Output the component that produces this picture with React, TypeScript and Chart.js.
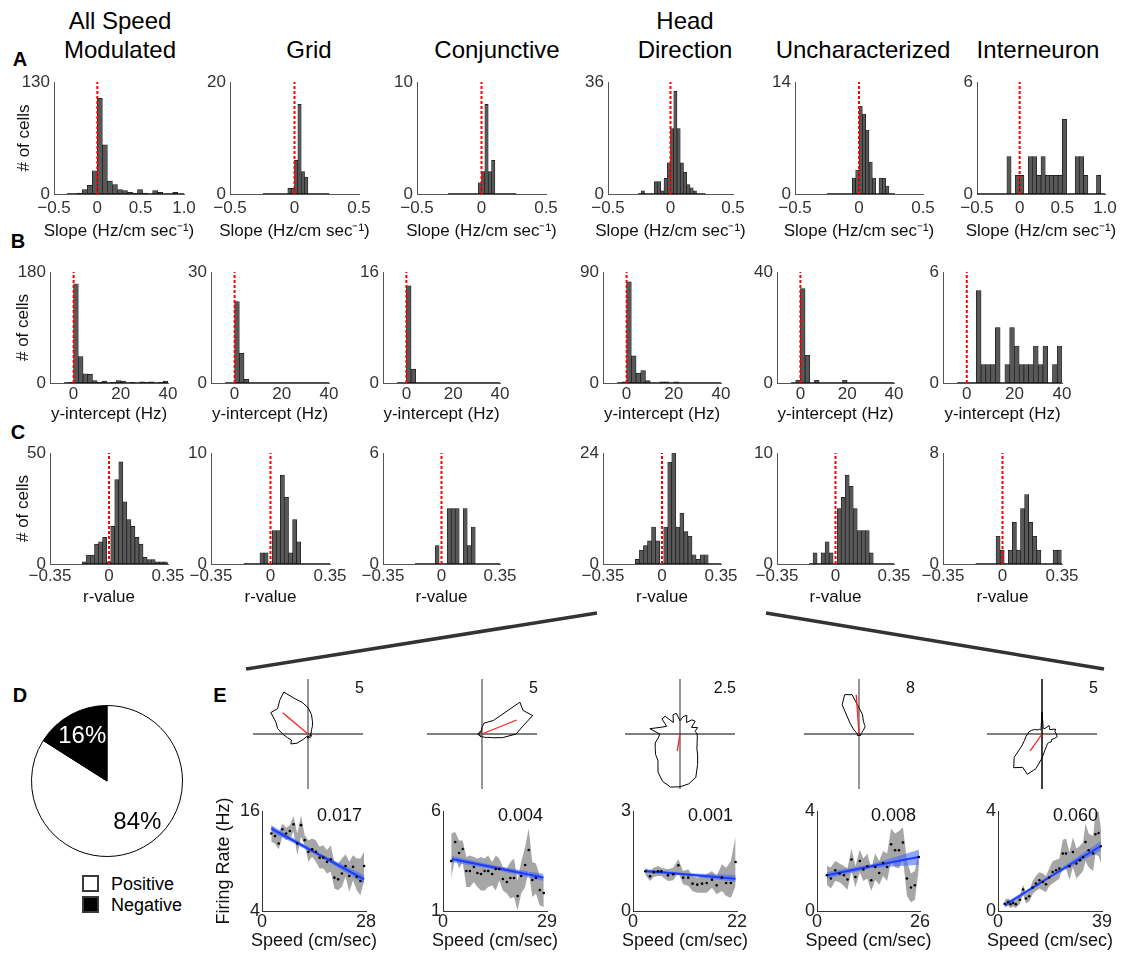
import React, { useEffect, useRef } from "react";
import { Chart, registerables } from "chart.js";

Chart.register(...registerables);

const FONT = "'Liberation Sans', Arial, Helvetica, sans-serif";
Chart.defaults.font.family = FONT;
Chart.defaults.color = "#222";

// ------------------------------------------------------------------ data
const columnTitles: string[][] = [
  ["All Speed", "Modulated"],
  ["Grid"],
  ["Conjunctive"],
  ["Head", "Direction"],
  ["Uncharacterized"],
  ["Interneuron"],
];

// Row A – slope histograms (counts per bin, bins start at binStart, width binWidth)
const slopeBinStart = [-0.29, -0.052, -0.026, -0.234, -0.052, -0.15];
const slopeBinWidth = [0.058, 0.026, 0.026, 0.026, 0.026, 0.05];
const slopeCountsAll = [0, 1, 5, 10, 27, 111, 57, 15, 11, 5, 4, 2, 1, 5, 1, 0, 4, 2, 0, 0, 2, 0];
const slopeCountsGrid = [1, 1, 6, 16, 4, 3];
const slopeCountsConj = [1, 2, 8, 2, 3];
const slopeCountsHD = [1, 0, 0, 0, 4, 4, 1, 5, 10, 21, 33, 21, 10, 7, 3, 2, 1];
const slopeCountsUnch = [2, 3, 11, 10, 8, 4, 2, 0, 2, 2, 1];
const slopeCountsInt = [2, 0, 1, 1, 0, 2, 2, 1, 2, 1, 1, 1, 1, 4, 0, 0, 2, 2, 1, 0, 0, 1];
const slopeYMax = [130, 20, 10, 36, 14, 6];
const slopeXRange = [[-0.5, 1.0], [-0.5, 0.5], [-0.5, 0.5], [-0.5, 0.5], [-0.5, 0.5], [-0.5, 1.0]];
const slopeTicksWide = [-0.5, 0, 0.5, 1.0];
const slopeTicks = [-0.5, 0, 0.5];
const slopeBaseline = [[-0.35, 1.0], [-0.245, 0.27], [-0.26, 0.27], [-0.26, 0.28], [-0.25, 0.28], [-0.5, 1.0]];

// Row B – y-intercept histograms (2 Hz bins)
const icptBinStart = [-2, 0, 0, -2, -2, 0];
const icptBinWidth = 2;
const icptCountsAll = [1, 161, 43, 15, 14, 4, 1, 3, 0, 1, 4, 3, 0, 1, 0, 2, 1, 2, 0, 1, 3];
const icptCountsGrid = [22, 8, 1];
const icptCountsConj = [14, 2];
const icptCountsHD = [1, 82, 22, 8, 10, 2, 0, 0, 1, 1, 0, 1];
const icptCountsUnch = [1, 34, 10, 0, 1, 0, 0, 0, 0, 0, 1];
const icptCountsInt = [0, 0, 5, 1, 1, 1, 3, 0, 1, 3, 2, 1, 1, 1, 2, 1, 2, 0, 1, 2];
const icptYMax = [180, 30, 16, 90, 40, 6];
const icptXRange = [-10, 40];
const icptTicks = [0, 20, 40];
const icptBaseline = [-4, 40];

// Row C – r-value histograms
const rBinStart = -0.158;
const rBinWidth = 0.024;
const rCountsAll = [1, 4, 4, 9, 10, 12, 1, 17, 38, 46, 28, 20, 17, 12, 9, 3, 2, 2, 1, 1, 1];
const rCountsGrid = [0, 0, 0, 0, 1, 1, 0, 3, 3, 8, 6, 1, 4, 2];
const rCountsConj = [0, 0, 0, 0, 0, 1, 0, 0, 3, 3, 3, 0, 3, 1, 2];
const rCountsHD = [1, 3, 4, 5, 8, 5, 0, 8, 22, 24, 8, 11, 7, 6, 2, 1, 2, 2];
const rCountsUnch = [0, 1, 0, 1, 2, 1, 0, 5, 6, 8, 7, 5, 3, 3, 3, 1];
const rCountsInt = [0, 0, 0, 0, 0, 2, 1, 0, 1, 3, 1, 4, 5, 3, 2, 1, 0, 0, 0, 1, 1];
const rYMax = [50, 10, 6, 24, 10, 8];
const rXRange = [-0.35, 0.35];
const rTicks = [-0.35, 0, 0.35];
const rBaseline = [-0.158, 0.35];

// D – pie
const pieLabels = ["Positive", "Negative"];
const pieValues = [84, 16];

// E – head-direction polar plots (rate at 0°,10°,...,350°, counter-clockwise from east)
const polar1Rates = [0.3, 0.2, 0.35, 0.3, 0.4, 0.5, 0.8, 1.2, 1.8, 2.4, 2.9, 3.4, 4.4, 4.0, 3.6, 3.9, 3.1, 2.8, 2.3, 1.9, 1.6, 1.8, 1.3, 0.6, 0.3, 0.2, 0.3, 0.4, 0.2, 0.3, 0.4, 0.3, 0.2, 0.4, 0.3, 0.2];
const polar2Rates = [3.1, 3.7, 4.9, 4.3, 4.5, 1.6, 1.3, 1.1, 1.0, 0.6, 0.3, 0.2, 0.3, 0.2, 0.3, 0.2, 0.3, 0.3, 0.4, 0.3, 0.2, 0.3, 0.2, 0.2, 0.3, 0.2, 0.2, 0.2, 0.3, 0.3, 0.3, 0.4, 0.5, 0.6, 1.0, 1.9];
const polar3Rates = [0.78, 0.7, 0.85, 0.6, 0.9, 0.84, 0.6, 0.9, 0.8, 0.6, 0.95, 0.93, 0.6, 1.05, 1.07, 0.7, 0.9, 1.39, 0.92, 1.0, 1.2, 1.3, 1.45, 1.56, 2.0, 2.3, 2.45, 2.4, 2.3, 2.1, 1.6, 1.25, 1.0, 0.9, 0.83, 0.8];
const polar4Rates = [0.3, 0.3, 0.4, 0.5, 0.8, 1.4, 1.6, 1.9, 2.9, 3.8, 5.8, 6.1, 4.9, 2.0, 1.0, 0.5, 0.4, 0.3, 0.3, 0.2, 0.3, 0.2, 0.3, 0.2, 0.3, 0.2, 0.3, 0.2, 0.3, 0.2, 0.3, 0.2, 0.3, 0.2, 0.3, 0.3];
const polar5Rates = [1.3, 1.2, 1.3, 0.8, 0.9, 1.0, 0.6, 0.5, 0.6, 2.0, 0.5, 0.4, 0.5, 0.5, 0.6, 0.8, 1.0, 1.2, 1.3, 1.5, 1.7, 2.1, 3.3, 4.0, 3.5, 3.9, 3.2, 2.2, 1.5, 1.2, 1.0, 1.0, 1.1, 1.0, 1.2, 1.4];
const polarBinDeg = 10;
const polarMax = [5, 5, 2.5, 8, 5];
const polarMaxLabels = ["5", "5", "2.5", "8", "5"];
const polarVecDir = [140, 22, 261, 94, 235];
const polarVecLen = [3.0, 3.4, 0.78, 5.7, 1.87];

// E – firing rate vs running speed
const speed1 = [2.5, 3.5, 4.5, 5.5, 6.5, 7.5, 8.5, 9.5, 10.5, 11.5, 12.5, 13.5, 14.5, 15.5, 16.5, 17.5, 18.5, 19.5, 20.5, 21.5, 22.5, 23.5, 24.5, 25.5, 26.5, 27.5];
const rate1 = [13.3, 13.0, 12.1, 13.8, 13.3, 13.6, 14.4, 12.1, 14.3, 12.5, 11.1, 11.4, 11.1, 10.4, 10.4, 9.9, 10.2, 8.0, 7.8, 8.5, 9.4, 8.2, 9.3, 8.1, 7.6, 9.4];
const upper1 = [14.3, 13.8, 13.3, 14.5, 14.0, 14.3, 15.4, 13.3, 15.5, 13.1, 12.5, 12.7, 12.5, 11.7, 11.9, 11.3, 11.9, 9.9, 9.7, 10.3, 10.8, 9.9, 10.7, 10.3, 10.3, 11.1];
const lower1 = [12.3, 12.1, 11.4, 12.9, 12.5, 12.7, 13.5, 10.7, 12.9, 11.9, 9.9, 10.5, 9.9, 9.1, 9.1, 8.5, 8.7, 6.7, 6.5, 6.9, 8.1, 6.3, 7.7, 6.5, 5.9, 7.7];
const fitX1 = [2.5, 15, 27.5];
const fitY1 = [13.9, 10.85, 7.8];
const fitUp1 = [14.3, 11.05, 8.3];
const fitLo1 = [13.5, 10.65, 7.3];

const speed2 = [2.3, 3.4, 4.5, 5.5, 6.5, 7.5, 8.6, 9.6, 10.6, 11.6, 12.6, 13.7, 14.7, 15.7, 16.7, 17.8, 18.8, 19.8, 20.8, 21.8, 22.9, 23.9, 24.9, 25.9, 27.0, 28.1];
const rate2 = [3.5, 4.45, 3.9, 4.1, 3.0, 3.0, 3.2, 2.9, 2.85, 3.0, 3.0, 2.85, 3.1, 3.1, 2.6, 2.45, 2.65, 2.65, 1.75, 2.75, 3.3, 4.05, 2.55, 2.65, 2.05, 1.9];
const upper2 = [4.87, 4.95, 4.53, 4.53, 3.7, 3.78, 3.7, 3.62, 3.7, 3.62, 3.78, 3.45, 3.78, 3.62, 3.2, 3.12, 3.45, 3.62, 2.53, 3.45, 4.2, 5.12, 3.45, 3.37, 2.78, 2.7];
const lower2 = [2.62, 3.7, 3.12, 3.45, 2.2, 2.2, 2.45, 2.2, 2.03, 2.03, 2.2, 2.28, 2.03, 2.53, 2.03, 1.87, 1.62, 1.7, 1.03, 1.87, 2.2, 3.03, 1.7, 1.87, 1.28, 1.2];
const fitX2 = [2.5, 15, 28];
const fitY2 = [3.6, 3.15, 2.67];
const fitUp2 = [3.75, 3.25, 2.85];
const fitLo2 = [3.45, 3.05, 2.5];

const speed3 = [2.6, 3.6, 4.4, 5.3, 6.0, 7.4, 8.5, 9.6, 10.6, 11.7, 12.6, 13.6, 14.6, 15.6, 16.7, 17.7, 18.8, 19.7, 20.7, 21.7];
const rate3 = [1.19, 1.04, 1.16, 1.19, 1.19, 1.07, 1.1, 1.37, 1.0, 1.0, 0.82, 0.79, 0.82, 0.84, 0.94, 0.77, 1.0, 0.84, 0.84, 1.47];
const upper3 = [1.3, 1.2, 1.3, 1.35, 1.3, 1.25, 1.3, 1.55, 1.2, 1.25, 1.05, 1.0, 1.05, 1.1, 1.2, 1.05, 1.4, 1.3, 1.5, 2.25];
const lower3 = [1.08, 0.9, 1.02, 1.05, 1.05, 0.9, 0.92, 1.15, 0.8, 0.75, 0.6, 0.55, 0.55, 0.55, 0.7, 0.5, 0.6, 0.45, 0.4, 0.75];
const fitX3 = [2.6, 12, 21.7];
const fitY3 = [1.2, 1.09, 0.97];
const fitUp3 = [1.25, 1.13, 1.08];
const fitLo3 = [1.15, 1.05, 0.87];

const speed4 = [2.5, 3.5, 4.6, 5.7, 6.8, 7.7, 8.7, 9.7, 10.8, 11.7, 12.7, 13.7, 14.7, 15.7, 16.7, 17.7, 18.7, 19.7, 20.7, 21.7, 22.7, 23.7, 24.7, 25.7];
const rate4 = [1.43, 1.3, 1.63, 1.5, 1.43, 1.26, 2.06, 1.36, 2.0, 1.66, 1.79, 1.23, 1.76, 1.52, 1.92, 1.76, 2.67, 2.43, 2.43, 2.74, 1.3, 0.94, 1.03, 2.16];
const upper4 = [1.8, 1.75, 2.0, 1.9, 1.8, 1.7, 2.5, 1.8, 2.45, 2.1, 2.3, 1.7, 2.3, 2.0, 2.4, 2.3, 3.3, 3.1, 3.2, 3.35, 2.0, 1.5, 1.6, 2.5];
const lower4 = [1.05, 0.9, 1.2, 1.15, 1.0, 0.85, 1.6, 0.95, 1.55, 1.2, 1.3, 0.8, 1.25, 1.05, 1.4, 1.2, 2.0, 1.75, 1.7, 2.1, 0.6, 0.35, 0.45, 1.7];
const fitX4 = [2.5, 14, 25.7];
const fitY4 = [1.43, 1.8, 2.16];
const fitUp4 = [1.55, 1.88, 2.45];
const fitLo4 = [1.3, 1.72, 1.85];

const speed5 = [2.5, 3.8, 4.7, 5.7, 6.7, 8.2, 9.4, 10.5, 11.7, 13.0, 14.2, 15.5, 16.8, 18.0, 19.2, 20.5, 21.8, 23.0, 24.3, 25.5, 26.8, 28.1, 29.4, 30.7, 31.9, 32.8, 34.0, 35.7, 36.5, 37.7, 38.6];
const rate5 = [0.29, 0.36, 0.27, 0.32, 0.27, 0.45, 0.86, 0.5, 0.59, 0.94, 1.1, 1.23, 1.16, 1.07, 1.34, 1.56, 1.63, 1.7, 2.3, 2.3, 1.79, 2.36, 1.9, 2.03, 2.16, 2.76, 2.43, 2.3, 3.07, 3.12, 2.59];
const upper5 = [0.45, 0.5, 0.42, 0.45, 0.42, 0.62, 1.05, 0.7, 0.8, 1.2, 1.4, 1.55, 1.5, 1.4, 1.7, 2.0, 2.05, 2.1, 2.85, 2.9, 2.35, 2.95, 2.5, 2.6, 2.75, 3.5, 3.1, 3.0, 3.9, 4.0, 3.3];
const lower5 = [0.15, 0.22, 0.12, 0.18, 0.12, 0.28, 0.65, 0.3, 0.38, 0.68, 0.8, 0.9, 0.82, 0.75, 1.0, 1.1, 1.2, 1.3, 1.75, 1.7, 1.25, 1.75, 1.3, 1.45, 1.6, 2.0, 1.75, 1.6, 2.25, 2.2, 1.9];
const fitX5 = [2.5, 20, 38.6];
const fitY5 = [0.23, 1.4, 2.6];
const fitUp5 = [0.32, 1.45, 2.8];
const fitLo5 = [0.14, 1.35, 2.42];

const speedXMax = [28, 29, 22, 26, 39];
const rateYRange = [[4, 16], [1, 6], [0, 3], [0, 4], [0, 4]];
const slopeValueLabels = ["0.017", "0.004", "0.001", "0.008", "0.060"];

// ------------------------------------------------------------------ assembled specs
const slopeCounts = [slopeCountsAll, slopeCountsGrid, slopeCountsConj, slopeCountsHD, slopeCountsUnch, slopeCountsInt];
const icptCounts = [icptCountsAll, icptCountsGrid, icptCountsConj, icptCountsHD, icptCountsUnch, icptCountsInt];
const rCounts = [rCountsAll, rCountsGrid, rCountsConj, rCountsHD, rCountsUnch, rCountsInt];

const histRows = [
  slopeCounts.map((counts, i) => ({
    start: slopeBinStart[i], width: slopeBinWidth[i], counts, ymax: slopeYMax[i],
    xmin: slopeXRange[i][0], xmax: slopeXRange[i][1],
    ticks: slopeXRange[i][1] > 0.6 ? slopeTicksWide : slopeTicks, base: slopeBaseline[i],
  })),
  icptCounts.map((counts, i) => ({
    start: icptBinStart[i], width: icptBinWidth, counts, ymax: icptYMax[i],
    xmin: icptXRange[0], xmax: icptXRange[1], ticks: icptTicks, base: icptBaseline,
  })),
  rCounts.map((counts, i) => ({
    start: rBinStart, width: rBinWidth, counts, ymax: rYMax[i],
    xmin: rXRange[0], xmax: rXRange[1], ticks: rTicks, base: rBaseline,
  })),
];

const speedSets = [
  { speed: speed1, rate: rate1, upper: upper1, lower: lower1, fitX: fitX1, fitY: fitY1, fitUp: fitUp1, fitLo: fitLo1 },
  { speed: speed2, rate: rate2, upper: upper2, lower: lower2, fitX: fitX2, fitY: fitY2, fitUp: fitUp2, fitLo: fitLo2 },
  { speed: speed3, rate: rate3, upper: upper3, lower: lower3, fitX: fitX3, fitY: fitY3, fitUp: fitUp3, fitLo: fitLo3 },
  { speed: speed4, rate: rate4, upper: upper4, lower: lower4, fitX: fitX4, fitY: fitY4, fitUp: fitUp4, fitLo: fitLo4 },
  { speed: speed5, rate: rate5, upper: upper5, lower: lower5, fitX: fitX5, fitY: fitY5, fitUp: fitUp5, fitLo: fitLo5 },
];
const polarRates = [polar1Rates, polar2Rates, polar3Rates, polar4Rates, polar5Rates];

// ------------------------------------------------------------------ layout (pixels)
const ROW_LAYOUT = [
  { top: 82, bottom: 194, H: 48, xPad: 4, titleOff: 37, digits: 1, W0: 41, yTitleOff: 30,
    title: "Slope (Hz/cm sec\u207B\u00B9)",
    plots: [[54, 184], [230, 359], [417, 546], [608, 733], [795, 923], [977, 1105]] },
  { top: 272, bottom: 383, H: 44, xPad: 1, titleOff: 31, digits: 0, W0: 37, yTitleOff: 26.5,
    title: "y-intercept (Hz)",
    plots: [[50, 168], [211, 329], [383, 500], [603, 721], [777, 894], [943, 1062]] },
  { top: 453, bottom: 564, H: 46, xPad: 2, titleOff: 33, digits: 2, W0: 37, yTitleOff: 26.5,
    title: "r-value",
    plots: [[50, 168], [211, 330], [383, 500], [603, 721], [777, 894], [943, 1062]] },
];
const TITLE_X = [120, 309, 497, 685, 863, 1038];
const SPEED_PLOTS = [[262, 366], [443, 547], [633, 737], [817, 920], [998, 1102]];
const SPEED_TOP = 811, SPEED_BOTTOM = 911;
const POLAR_CX = [308, 482, 680, 859, 1042];
const POLAR_CY = 734;

// ------------------------------------------------------------------ helpers
function fmtTick(v: number, digits: number) {
  if (Math.abs(v) < 1e-9) return "0";
  const s = Math.abs(v).toFixed(digits);
  return v < 0 ? "\u2212" + s : s;
}

// axis titles drawn without width compression
function axisTitlePlugin(xText: string, xOff: number, yText: string | null, yOff: number, size: number) {
  return {
    id: "axisTitles",
    afterDraw(chart: any) {
      const { ctx, chartArea } = chart;
      ctx.save();
      ctx.font = `${size}px ${FONT}`;
      ctx.fillStyle = "#111";
      ctx.textAlign = "center";
      ctx.textBaseline = "middle";
      ctx.fillText(xText, (chartArea.left + chartArea.right) / 2, chartArea.bottom + xOff);
      if (yText) {
        ctx.translate(chartArea.left - yOff, (chartArea.top + chartArea.bottom) / 2);
        ctx.rotate(-Math.PI / 2);
        ctx.fillText(yText, 0, 0);
      }
      ctx.restore();
    },
  };
}

function histConfig(h: any, row: any, col: number, W: number, padTop: number, padRight: number) {
  const centers = h.counts.map((_: number, i: number) => h.start + (i + 0.5) * h.width);
  return {
    type: "bar",
    data: {
      datasets: [
        { type: "line", data: [{ x: 0, y: 0 }, { x: 0, y: h.ymax }], borderColor: "#ff0000", borderWidth: 2,
          borderDash: [3, 2], pointRadius: 0, order: 0 },
        { type: "line", data: [{ x: h.base[0], y: 0 }, { x: h.base[1], y: 0 }], borderColor: "#111",
          borderWidth: 1.5, pointRadius: 0, order: 1 },
        { type: "bar", data: centers.map((x: number, i: number) => ({ x, y: h.counts[i] })),
          backgroundColor: "#585858", borderColor: "#161616", borderWidth: 0.7,
          barPercentage: 1, categoryPercentage: 1, order: 2 },
      ],
    },
    options: {
      responsive: false, animation: false, devicePixelRatio: 1, events: [],
      layout: { padding: { left: 0, top: padTop, right: padRight, bottom: 0 } },
      plugins: { legend: { display: false }, tooltip: { enabled: false } },
      scales: {
        x: {
          type: "linear", min: h.xmin, max: h.xmax, offset: false,
          grid: { display: false, drawTicks: false, offset: false },
          border: { display: true, color: "#555", width: 1 },
          afterBuildTicks: (s: any) => { s.ticks = h.ticks.map((v: number) => ({ value: v })); },
          afterFit: (s: any) => { s.height = row.H; s.paddingLeft = 0; s.paddingRight = 0; },
          ticks: { autoSkip: false, maxRotation: 0, padding: row.xPad, font: { size: 17 }, color: "#333",
            callback: (v: any) => fmtTick(Number(v), row.digits) },
          title: { display: false },
        },
        y: {
          type: "linear", min: 0, max: h.ymax,
          grid: { display: false, drawTicks: false },
          border: { display: true, color: "#555", width: 1 },
          afterBuildTicks: (s: any) => { s.ticks = [{ value: 0 }, { value: h.ymax }]; },
          afterFit: (s: any) => { s.width = W; s.paddingTop = 0; s.paddingBottom = 0; },
          ticks: { padding: 4, font: { size: 17 }, color: "#333" },
          title: { display: false },
        },
      },
    },
    plugins: [axisTitlePlugin(row.title, row.titleOff, col === 0 ? "# of cells" : null, row.yTitleOff, 17)],
  };
}

function speedConfig(s: any, i: number, W: number) {
  const pts = (xs: number[], ys: number[]) => xs.map((x, k) => ({ x, y: ys[k] }));
  const none = "rgba(0,0,0,0)";
  const label = slopeValueLabels[i];
  return {
    type: "line",
    data: {
      datasets: [
        { data: pts(s.speed, s.rate), showLine: false, pointRadius: 1.3, pointBackgroundColor: "#000",
          pointBorderWidth: 0 },
        { data: pts(s.fitX, s.fitY), borderColor: "#1b3dff", borderWidth: 2, pointRadius: 0 },
        { data: pts(s.fitX, s.fitUp), borderColor: none, borderWidth: 0, pointRadius: 0, fill: "+1",
          backgroundColor: "rgba(70,105,250,0.6)" },
        { data: pts(s.fitX, s.fitLo), borderColor: none, borderWidth: 0, pointRadius: 0, fill: false },
        { data: pts(s.speed, s.upper), borderColor: none, borderWidth: 0, pointRadius: 0, fill: "+1",
          backgroundColor: "#a6a6a6" },
        { data: pts(s.speed, s.lower), borderColor: none, borderWidth: 0, pointRadius: 0, fill: false },
      ],
    },
    options: {
      responsive: false, animation: false, devicePixelRatio: 1, events: [],
      layout: { padding: { left: 0, top: 14, right: 16, bottom: 0 } },
      plugins: { legend: { display: false }, tooltip: { enabled: false } },
      scales: {
        x: {
          type: "linear", min: 0, max: speedXMax[i],
          grid: { display: false, drawTicks: false },
          border: { display: true, color: "#333", width: 1 },
          afterBuildTicks: (sc: any) => { sc.ticks = [{ value: 0 }, { value: speedXMax[i] }]; },
          afterFit: (sc: any) => { sc.height = 42; sc.paddingLeft = 0; sc.paddingRight = 0; },
          ticks: { autoSkip: false, maxRotation: 0, padding: 0, font: { size: 18 }, color: "#222" },
          title: { display: false },
        },
        y: {
          type: "linear", min: rateYRange[i][0], max: rateYRange[i][1],
          grid: { display: false, drawTicks: false },
          border: { display: true, color: "#333", width: 1 },
          afterBuildTicks: (sc: any) => { sc.ticks = [{ value: rateYRange[i][0] }, { value: rateYRange[i][1] }]; },
          afterFit: (sc: any) => { sc.width = W; sc.paddingTop = 0; sc.paddingBottom = 0; },
          ticks: { padding: 2, font: { size: 18 }, color: "#222" },
          title: { display: false },
        },
      },
    },
    plugins: [
      axisTitlePlugin("Speed (cm/sec)", 30, i === 0 ? "Firing Rate (Hz)" : null, 38, 18),
      {
        id: "valueLabel",
        afterDraw(chart: any) {
          const { ctx, chartArea } = chart;
          ctx.save();
          ctx.font = `18px ${FONT}`;
          ctx.fillStyle = "#111";
          ctx.textAlign = "right";
          ctx.textBaseline = "middle";
          ctx.fillText(label, chartArea.right - 4, chartArea.top + 5);
          ctx.restore();
        },
      },
    ],
  };
}

function polarConfig(i: number) {
  const n = 360;
  const labels = Array.from({ length: n }, (_, k) => String(k));
  const poly: (number | null)[] = new Array(n).fill(null);
  polarRates[i].forEach((r, k) => { poly[(n - k * polarBinDeg) % n] = r; });
  const vec: (number | null)[] = new Array(n).fill(null);
  const j = (n - polarVecDir[i]) % n;
  vec[(j + n - 1) % n] = 0;
  vec[j] = polarVecLen[i];
  const vertColor = i === 4 ? "#111" : "#7a7a7a";
  const text = polarMaxLabels[i];
  return {
    type: "radar",
    data: {
      labels,
      datasets: [
        { data: vec, borderColor: "#ff2020", borderWidth: 1.3, pointRadius: 0, fill: false, spanGaps: false },
        { data: poly, borderColor: "#000", borderWidth: 1, pointRadius: 0, fill: false, spanGaps: true },
      ],
    },
    options: {
      responsive: false, animation: false, devicePixelRatio: 1, events: [],
      layout: { padding: 10 },
      plugins: { legend: { display: false }, tooltip: { enabled: false } },
      scales: {
        r: {
          min: 0, max: polarMax[i], startAngle: 90,
          ticks: { display: false },
          grid: { display: false },
          pointLabels: { display: false },
          angleLines: {
            display: true,
            color: (c: any) => (c.index % 180 === 0 ? "#000" : c.index % 90 === 0 ? vertColor : "rgba(0,0,0,0)"),
            lineWidth: (c: any) => (c.index % 180 === 0 ? 1.2 : c.index % 90 === 0 ? 1.6 : 0),
          },
        },
      },
    },
    plugins: [{
      id: "maxLabel",
      afterDraw(chart: any) {
        const sc = chart.scales.r;
        const ctx = chart.ctx;
        ctx.save();
        ctx.font = `16px ${FONT}`;
        ctx.fillStyle = "#111";
        ctx.textAlign = "right";
        ctx.textBaseline = "middle";
        ctx.fillText(text, sc.xCenter + 56, sc.yCenter - 45);
        ctx.restore();
      },
    }],
  };
}

function pieConfig() {
  return {
    type: "pie",
    data: {
      labels: pieLabels,
      datasets: [{ data: pieValues, backgroundColor: ["#ffffff", "#000000"], borderColor: "#000", borderWidth: 1 }],
    },
    options: {
      responsive: false, animation: false, devicePixelRatio: 1, events: [],
      layout: { padding: 4 },
      plugins: { legend: { display: false }, tooltip: { enabled: false } },
    },
    plugins: [{
      id: "pctLabels",
      afterDatasetsDraw(chart: any) {
        const meta = chart.getDatasetMeta(0);
        const ctx = chart.ctx;
        ctx.save();
        ctx.font = `24px ${FONT}`;
        ctx.textAlign = "center";
        ctx.textBaseline = "middle";
        meta.data.forEach((arc: any, k: number) => {
          const p = arc.getProps(["x", "y", "startAngle", "endAngle", "outerRadius"], true);
          const mid = (p.startAngle + p.endAngle) / 2 - (k === 0 ? 0.13 : 0);
          const r = p.outerRadius * 0.68;
          ctx.fillStyle = k === 1 ? "#fff" : "#000";
          ctx.fillText(pieValues[k] + "%", p.x + r * Math.cos(mid), p.y + r * Math.sin(mid));
        });
        ctx.restore();
      },
    }],
  };
}

// ------------------------------------------------------------------ components
function ChartBox({ left, top, width, height, make }: any) {
  const ref = useRef<HTMLCanvasElement | null>(null);
  useEffect(() => {
    const chart = new Chart(ref.current as HTMLCanvasElement, make());
    return () => chart.destroy();
  }, []);
  return (
    <canvas ref={ref} width={width} height={height}
      style={{ position: "absolute", left, top, width, height, display: "block" }} />
  );
}

function Txt({ x, y, size, bold, align, children, color }: any) {
  return (
    <div style={{
      position: "absolute", left: x, top: y, fontSize: size, fontWeight: bold ? 700 : 400,
      lineHeight: 1, whiteSpace: "nowrap", color: color || "#000",
      transform: align === "left" ? "translate(0,-50%)" : "translate(-50%,-50%)",
    }}>{children}</div>
  );
}

export default function App() {
  const boxes: any[] = [];
  ROW_LAYOUT.forEach((row, r) => {
    row.plots.forEach(([x0, x1], c) => {
      const W = c === 0 ? row.W0 : 32;
      const padTop = 12, padRight = 20;
      boxes.push(
        <ChartBox key={`h${r}${c}`} left={x0 - W} top={row.top - padTop}
          width={W + (x1 - x0) + padRight} height={padTop + (row.bottom - row.top) + row.H}
          make={() => histConfig(histRows[r][c], row, c, W, padTop, padRight)} />
      );
    });
  });
  SPEED_PLOTS.forEach(([x0, x1], i) => {
    const W = i === 0 ? 52 : 30;
    boxes.push(
      <ChartBox key={`s${i}`} left={x0 - W} top={SPEED_TOP - 14}
        width={W + (x1 - x0) + 16} height={14 + (SPEED_BOTTOM - SPEED_TOP) + 42}
        make={() => speedConfig(speedSets[i], i, W)} />
    );
  });
  POLAR_CX.forEach((cx, i) => {
    boxes.push(
      <ChartBox key={`p${i}`} left={cx - 65} top={POLAR_CY - 65} width={130} height={130}
        make={() => polarConfig(i)} />
    );
  });

  return (
    <div style={{ position: "absolute", left: 0, top: 0, width: 1139, height: 954, background: "#fff",
      overflow: "hidden", fontFamily: FONT, color: "#000" }}>
      <svg width={1139} height={954} style={{ position: "absolute", left: 0, top: 0 }}>
        <line x1={597} y1={613} x2={246} y2={669} stroke="#333" strokeWidth={3.5} />
        <line x1={766} y1={613} x2={1104} y2={669} stroke="#333" strokeWidth={3.5} />
      </svg>
      {columnTitles.map((lines, i) =>
        lines.map((t, k) => (
          <Txt key={`t${i}${k}`} x={TITLE_X[i]} y={lines.length === 2 ? (k === 0 ? 21 : 50) : 50} size={24}>{t}</Txt>
        ))
      )}
      <Txt x={20} y={59} size={20} bold>A</Txt>
      <Txt x={18} y={241} size={20} bold>B</Txt>
      <Txt x={18} y={432} size={20} bold>C</Txt>
      <Txt x={20} y={695} size={20} bold>D</Txt>
      <Txt x={220} y={695} size={20} bold>E</Txt>
      {boxes}
      <ChartBox left={27} top={701} width={160} height={160} make={pieConfig} />
      <div style={{ position: "absolute", left: 82, top: 875, width: 13, height: 13, border: "2.5px solid #3a3a3a", background: "#fff" }} />
      <div style={{ position: "absolute", left: 82, top: 896, width: 13, height: 13, border: "2.5px solid #3a3a3a", background: "#000" }} />
      <Txt x={111} y={884} size={18} align="left">{pieLabels[0]}</Txt>
      <Txt x={111} y={905} size={18} align="left">{pieLabels[1]}</Txt>
    </div>
  );
}
